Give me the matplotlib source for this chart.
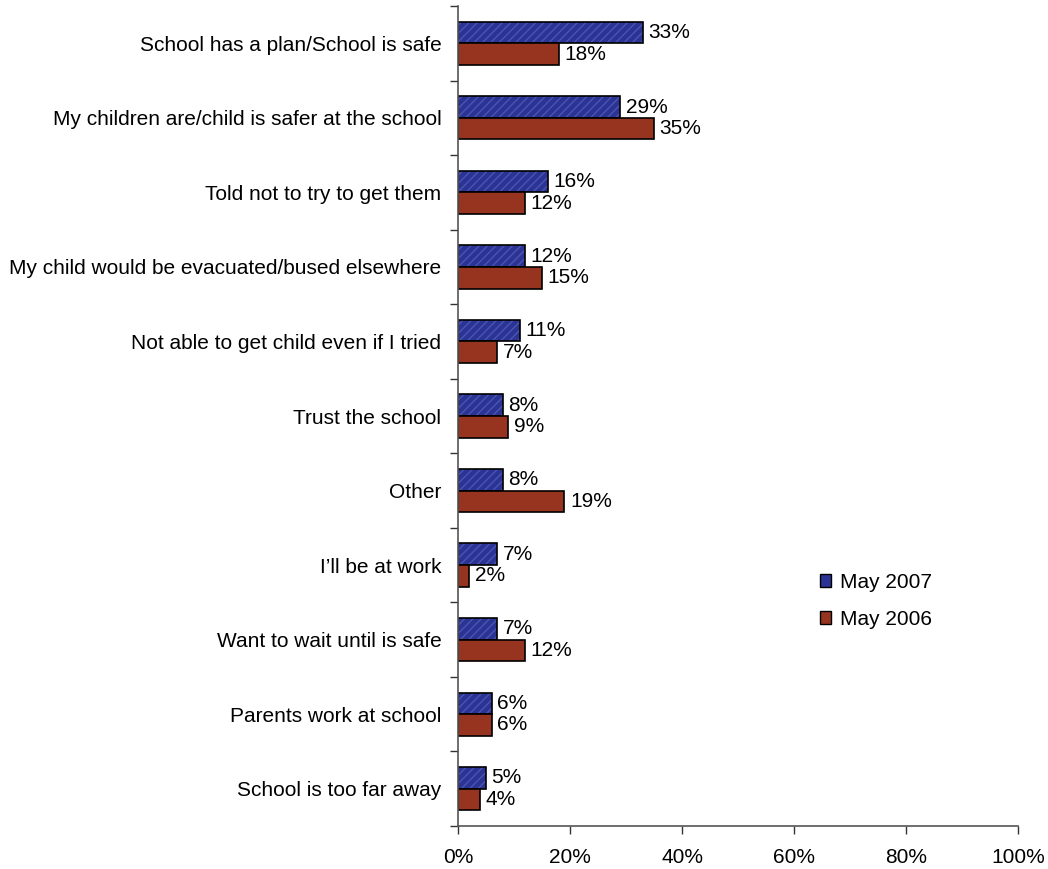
import matplotlib
matplotlib.use('Agg')
import matplotlib.pyplot as plt
from matplotlib.patches import Patch
from matplotlib.ticker import FixedLocator, PercentFormatter
import numpy as np

plt.rcParams['font.family'] = ['Liberation Sans', 'DejaVu Sans']
plt.rcParams['hatch.linewidth'] = 1.0

# 数据
categories = [
    'School has a plan/School is safe',
    'My children are/child is safer at the school',
    'Told not to try to get them',
    'My child would be evacuated/bused elsewhere',
    'Not able to get child even if I tried',
    'Trust the school',
    'Other',
    "I\u2019ll be at work",
    'Want to wait until is safe',
    'Parents work at school',
    'School is too far away',
]
may_2007 = [33, 29, 16, 12, 11, 8, 8, 7, 7, 6, 5]
may_2006 = [18, 35, 12, 15, 7, 9, 19, 2, 12, 6, 4]
x_ticks = [0, 20, 40, 60, 80, 100]

blue = '#2b3494'
blue_hatch = '#4a55b0'
red = '#973420'
fs = 15

fig = plt.figure(figsize=(10.48, 8.69), dpi=100)
ax = fig.add_axes([458 / 1048, 1 - 826 / 869, 560 / 1048, 820 / 869])

y = np.arange(len(categories))
h = 0.29

# May 2007: 斜线填充
ax.barh(y - h / 2, may_2007, height=h, color=blue, edgecolor=blue_hatch,
        hatch='////', linewidth=0)
b1 = ax.barh(y - h / 2, may_2007, height=h, fill=False, edgecolor='black',
             linewidth=1.2)
b2 = ax.barh(y + h / 2, may_2006, height=h, color=red, edgecolor='black',
             linewidth=1.2)

ax.bar_label(b1, labels=[f'{v}%' for v in may_2007], padding=4, fontsize=fs)
ax.bar_label(b2, labels=[f'{v}%' for v in may_2006], padding=4, fontsize=fs)

ax.set_ylim(len(categories) - 0.5, -0.5)
ax.set_xlim(0, 100)

ax.set_yticks(y)
ax.set_yticklabels(categories, fontsize=fs)
ax.tick_params(axis='y', which='major', length=0, pad=12)
ax.yaxis.set_minor_locator(FixedLocator(np.arange(-0.5, len(categories), 1.0)))
ax.tick_params(axis='y', which='minor', length=6, width=1, color='#333333')

ax.set_xticks(x_ticks)
ax.xaxis.set_major_formatter(PercentFormatter(decimals=0))
ax.tick_params(axis='x', length=6, width=1, color='#333333', labelsize=fs, pad=10)

for s in ['top', 'right']:
    ax.spines[s].set_visible(False)
for s in ['left', 'bottom']:
    ax.spines[s].set_color('#555555')
    ax.spines[s].set_linewidth(1.2)

handles = [Patch(facecolor=blue, edgecolor='black', label='May 2007'),
           Patch(facecolor=red, edgecolor='black', label='May 2006')]
fig.legend(handles=handles, loc='upper left', bbox_to_anchor=(820 / 1048, 1 - 573 / 869),
           frameon=False, fontsize=fs, handlelength=0.55, handleheight=0.55,
           handletextpad=0.4, labelspacing=0.85, borderpad=0, borderaxespad=0)

plt.savefig('out.png', dpi=100)
